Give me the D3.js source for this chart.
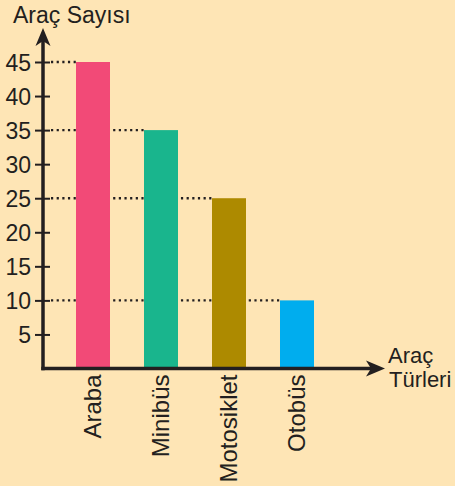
<!DOCTYPE html>
<html><head><meta charset="utf-8">
<script src="https://cdn.jsdelivr.net/npm/d3@7"></script>
<style>html,body{margin:0;padding:0;background:#fee5b5;}svg{display:block;}</style>
</head><body>
<script>
const categories = ["Araba", "Minibüs", "Motosiklet", "Otobüs"];
const values = [45, 35, 25, 10];
const colors = ["#f24a77", "#19b58d", "#ad8a00", "#00adee"];
const yTicks = [5, 10, 15, 20, 25, 30, 35, 40, 45];
const yTitle = "Araç Sayısı";
const xTitle = ["Araç", "Türleri"];

const W = 455, H = 486;
const ink = "#231f20";
const font = "'Liberation Sans', Arial, sans-serif";
const svg = d3.select("body").append("svg").attr("width", W).attr("height", H);
svg.append("rect").attr("width", W).attr("height", H).attr("fill", "#fee5b5");

const x0 = 43, yBase = 368.5;
const x = d3.scaleBand().domain(categories).range([42, 348]).paddingInner(0.5).paddingOuter(0.5);
const y = d3.scaleLinear().domain([0, 45]).range([yBase, 62]);

// dotted guide lines
svg.append("g").selectAll("line").data(categories).join("line")
  .attr("x1", x0 + 8).attr("x2", d => x(d))
  .attr("y1", (d, i) => y(values[i])).attr("y2", (d, i) => y(values[i]))
  .attr("stroke", ink).attr("stroke-width", 2.4)
  .attr("stroke-dasharray", "2.2,3.45");

// bars
svg.append("g").selectAll("rect").data(categories).join("rect")
  .attr("x", d => x(d)).attr("width", x.bandwidth())
  .attr("y", (d, i) => y(values[i])).attr("height", (d, i) => yBase - y(values[i]))
  .attr("fill", (d, i) => colors[i]);

// y axis
const yAxis = d3.axisLeft(y).tickValues(yTicks).tickSize(0).tickPadding(12);
const gy = svg.append("g").attr("transform", `translate(${x0},0)`).call(yAxis);
gy.select(".domain").remove();
gy.selectAll(".tick text").attr("font-family", font).attr("font-size", 23).attr("fill", ink).attr("dy", "0.36em");
gy.selectAll(".tick").append("line").attr("x1", -8).attr("x2", 7).attr("stroke", ink).attr("stroke-width", 2);

// x axis labels
const xAxis = d3.axisBottom(x).tickSize(0).tickPadding(0);
const gx = svg.append("g").attr("transform", `translate(0,${yBase})`).call(xAxis);
gx.select(".domain").remove();
gx.selectAll(".tick text")
  .attr("font-family", font).attr("font-size", 24).attr("fill", ink)
  .attr("text-anchor", "end").attr("dy", null)
  .attr("transform", "rotate(-90)").attr("x", -6).attr("y", 8);

// axis lines
svg.append("line").attr("x1", x0).attr("x2", x0).attr("y1", yBase + 1.75).attr("y2", 40)
  .attr("stroke", ink).attr("stroke-width", 3.5);
svg.append("line").attr("x1", x0 - 1.75).attr("x2", 372).attr("y1", yBase).attr("y2", yBase)
  .attr("stroke", ink).attr("stroke-width", 3.5);
// arrow heads
svg.append("path").attr("d", `M${x0},28 L${x0+7.5},46 L${x0},41 L${x0-7.5},46 Z`).attr("fill", ink);
svg.append("path").attr("d", `M385,${yBase} L366,${yBase-8} L371,${yBase} L366,${yBase+8} Z`).attr("fill", ink);

// titles
svg.append("text").attr("x", 13).attr("y", 23).attr("font-family", font).attr("font-size", 23).attr("fill", ink).text(yTitle);
svg.append("text").attr("font-family", font).attr("font-size", 22).attr("fill", ink)
  .selectAll("tspan").data(xTitle).join("tspan")
  .attr("x", (d, i) => i ? 389 : 388).attr("y", (d, i) => 363 + i * 23.5).text(d => d);
</script>
</body></html>
